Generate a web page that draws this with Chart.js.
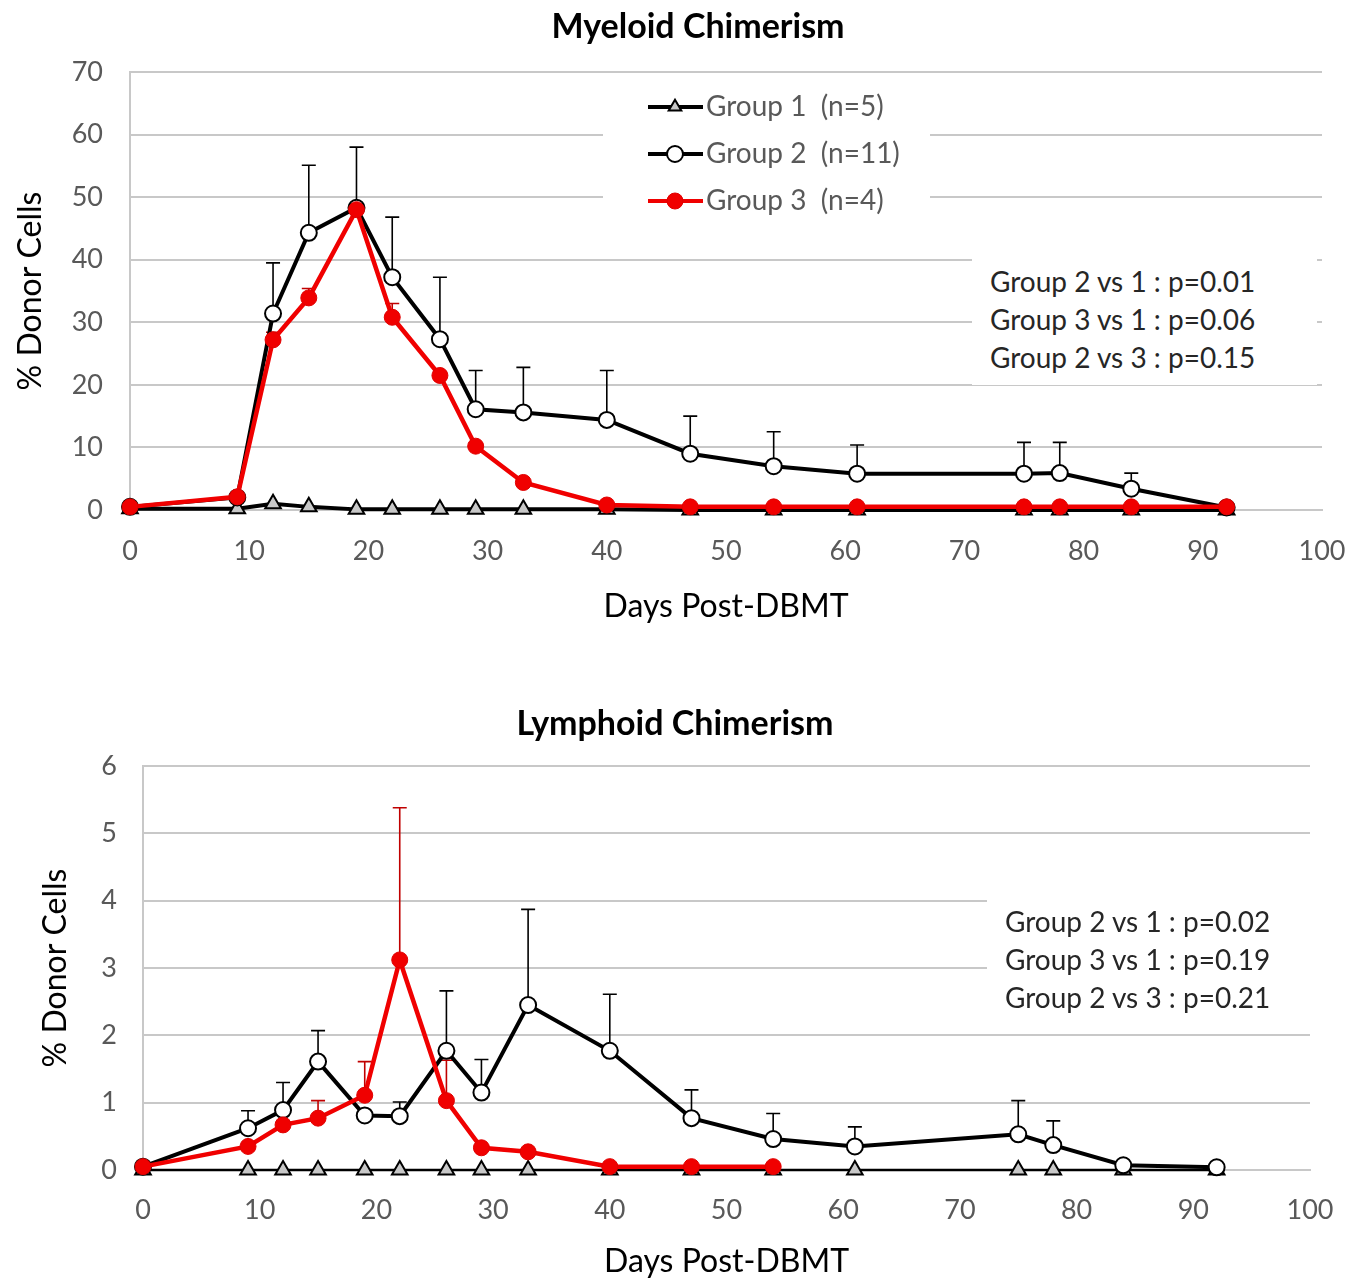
<!DOCTYPE html>
<html>
<head>
<meta charset="utf-8">
<script src="https://cdn.jsdelivr.net/npm/chart.js@4.4.0/dist/chart.umd.min.js"></script>
<style>
body { margin: 0; background: #fff; }
#wrap { position: relative; width: 1363px; height: 1282px; overflow: hidden; }
.plot { position: absolute; left: 0; }
.ttl { position: absolute; font: bold 34px Lato, sans-serif; line-height: 40px; color: #000; transform: translateX(-50%); white-space: nowrap; }
.stats { position: absolute; background: #fff; font: 28px Lato, sans-serif; line-height: 38px; color: #262626; box-sizing: border-box; white-space: pre; }
</style>
</head>
<body>
<div id="wrap">
  <canvas id="myeloid" class="plot" width="1363" height="640" style="top:0"></canvas>
  <canvas id="lymphoid" class="plot" width="1363" height="642" style="top:640px"></canvas>
  <div class="ttl" style="left:698px;top:5px">Myeloid Chimerism</div>
  <div class="ttl" style="left:675px;top:702px">Lymphoid Chimerism</div>
  <div class="stats" style="left:972px;top:240px;width:345px;height:145px;padding:22px 0 0 18px">Group 2 vs 1 : p=0.01
Group 3 vs 1 : p=0.06
Group 2 vs 3 : p=0.15</div>
  <div class="stats" style="left:987px;top:870px;width:323px;height:142px;padding:32px 0 0 18px">Group 2 vs 1 : p=0.02
Group 3 vs 1 : p=0.19
Group 2 vs 3 : p=0.21</div>
</div>
<script>
var days = [0, 9, 12, 15, 19, 22, 26, 29, 33, 40, 47, 54, 61, 75, 78, 84, 92];
var groupLabels = ['Group 1  (n=5)', 'Group 2  (n=11)', 'Group 3  (n=4)'];

// myeloid
var myeloidG1 = [0.2, 0.2, 1.0, 0.5, 0.1, 0.1, 0.1, 0.1, 0.1, 0.1, 0, 0, 0, 0, 0, 0, 0];
var myeloidG2 = [0.5, 2.0, 31.4, 44.3, 48.3, 37.2, 27.3, 16.1, 15.6, 14.4, 9.0, 7.0, 5.8, 5.8, 5.9, 3.4, 0.4];
var myeloidG2Err = [0, 0, 8.1, 10.8, 9.7, 9.6, 9.9, 6.2, 7.2, 7.9, 6.0, 5.5, 4.6, 5.0, 4.9, 2.5, 0];
var myeloidG3 = [0.5, 2.1, 27.2, 33.9, 48.0, 30.8, 21.5, 10.2, 4.4, 0.8, 0.5, 0.5, 0.5, 0.5, 0.5, 0.5, 0.5];
var myeloidG3Err = [0, 0, 1.2, 1.5, 0.5, 2.2, 0.5, 0.4, 0.4, 0, 0, 0, 0, 0, 0, 0, 0];

// lymphoid
var lymphoidG1 = [0, 0, 0, 0, 0, 0, 0, 0, 0, 0, 0, 0, 0, 0, 0, 0, 0];
var lymphoidG2 = [0.05, 0.62, 0.89, 1.61, 0.81, 0.80, 1.77, 1.15, 2.45, 1.77, 0.77, 0.46, 0.35, 0.53, 0.37, 0.07, 0.04];
var lymphoidG2Err = [0, 0.26, 0.41, 0.46, 0, 0.21, 0.89, 0.49, 1.42, 0.84, 0.42, 0.38, 0.29, 0.50, 0.36, 0.02, 0];
var lymphoidG3Days = [0, 9, 12, 15, 19, 22, 26, 29, 33, 40, 47, 54];
var lymphoidG3 = [0.05, 0.35, 0.67, 0.77, 1.11, 3.12, 1.03, 0.33, 0.27, 0.05, 0.05, 0.05];
var lymphoidG3Err = [0, 0, 0.05, 0.26, 0.50, 2.26, 0.60, 0, 0, 0, 0, 0];

var FONT = 'Lato, "Open Sans", sans-serif';
var GREY = '#595959';

function pts(xs, ys) {
	return xs.map(function(d, i) { return {x: d, y: ys[i]}; });
}

// error bars drawn upward from each point, under the markers
var errorBars = {
	id: 'errorBars',
	beforeDatasetsDraw: function(chart) {
		var ctx = chart.ctx, xs = chart.scales.x, ys = chart.scales.y;
		chart.data.datasets.forEach(function(ds) {
			if (!ds.errors) return;
			ctx.save();
			ctx.strokeStyle = ds.errorColor;
			ctx.lineWidth = 1.6;
			ds.data.forEach(function(p, j) {
				var e = ds.errors[j];
				if (!e) return;
				var x = xs.getPixelForValue(p.x);
				var y0 = ys.getPixelForValue(p.y);
				var y1 = ys.getPixelForValue(p.y + e);
				ctx.beginPath();
				ctx.moveTo(x, y0); ctx.lineTo(x, y1);
				ctx.moveTo(x - 7, y1); ctx.lineTo(x + 7, y1);
				ctx.stroke();
			});
			ctx.restore();
		});
	}
};

function marker(ctx, ds, x, y) {
	ctx.save();
	ctx.fillStyle = ds.pointBackgroundColor;
	ctx.strokeStyle = ds.pointBorderColor;
	ctx.lineWidth = ds.pointBorderWidth;
	var r = ds.pointRadius;
	ctx.beginPath();
	if (ds.pointStyle === 'triangle') {
		ctx.moveTo(x, y - r * 0.8);
		ctx.lineTo(x + r * 0.7, y + r * 0.4);
		ctx.lineTo(x - r * 0.7, y + r * 0.4);
		ctx.closePath();
	} else {
		ctx.arc(x, y, r, 0, Math.PI * 2);
	}
	ctx.fill();
	ctx.stroke();
	ctx.restore();
}

// legend sitting inside the plot, on a white patch
var boxLegend = {
	id: 'boxLegend',
	beforeDatasetsDraw: function(chart, args, opts) {
		if (!opts.show) return;
		var ctx = chart.ctx;
		ctx.save();
		ctx.fillStyle = '#fff';
		ctx.fillRect(603, 85, 327, 143);
		ctx.font = '28px ' + FONT;
		ctx.textBaseline = 'middle';
		chart.data.datasets.forEach(function(ds, i) {
			var y = 107 + i * 47;
			ctx.strokeStyle = ds.borderColor;
			ctx.lineWidth = 4;
			ctx.beginPath(); ctx.moveTo(648, y); ctx.lineTo(703, y); ctx.stroke();
			marker(ctx, ds, 675, y);
			ctx.fillStyle = GREY;
			ctx.fillText(ds.label, 706, y);
		});
		ctx.restore();
	}
};

function makeSets(g1x, g1, g2x, g2, g2e, g3x, g3, g3e, g1w) {
	return [
		{label: groupLabels[0], data: pts(g1x, g1), order: 3, clip: false, borderColor: '#000', borderWidth: g1w,
		 pointStyle: 'triangle', pointRadius: 9, pointBackgroundColor: '#c8c8c8', pointBorderColor: '#000', pointBorderWidth: 2},
		{label: groupLabels[1], data: pts(g2x, g2), order: 2, clip: false, borderColor: '#000', borderWidth: 4,
		 pointStyle: 'circle', pointRadius: 8, pointBackgroundColor: '#fff', pointBorderColor: '#000', pointBorderWidth: 2,
		 errors: g2e, errorColor: '#000'},
		{label: groupLabels[2], data: pts(g3x, g3), order: 1, clip: false, borderColor: '#f00000', borderWidth: 4.5,
		 pointStyle: 'circle', pointRadius: 8, pointBackgroundColor: '#f00000', pointBorderColor: '#e00000', pointBorderWidth: 1,
		 errors: g3e, errorColor: '#c00000'}
	];
}

function makeOptions(o) {
	return {
		responsive: false,
		animation: false,
		layout: {padding: {top: o.top, right: o.right, left: 0, bottom: 0}},
		plugins: {legend: {display: false}, tooltip: {enabled: false}, boxLegend: {show: o.legend}},
		elements: {line: {tension: 0}},
		scales: {
			x: {
				type: 'linear', min: 0, max: 100,
				ticks: {stepSize: 10, color: GREY, font: {family: FONT, size: 27}, padding: o.xtickPad, maxRotation: 0},
				grid: {display: false, drawTicks: false},
				border: {display: true, color: '#c8c8c8', width: 2},
				title: {display: true, text: 'Days Post-DBMT', color: '#000', font: {family: FONT, size: 32}, padding: o.xtitlePad},
				afterFit: function(s) { s.height = o.xh; s.paddingRight = 0; s.paddingLeft = 0; }
			},
			y: {
				min: 0, max: o.ymax,
				ticks: {stepSize: o.ystep, color: GREY, font: {family: FONT, size: 27}, padding: o.ytickPad},
				grid: {color: '#c8c8c8', lineWidth: 2, drawTicks: false},
				border: {display: true, color: '#c8c8c8', width: 2},
				title: {display: true, text: '% Donor Cells', color: '#000', font: {family: FONT, size: 32}, padding: o.ytitlePad},
				afterFit: function(s) { s.width = o.yw; }
			}
		}
	};
}

new Chart(document.getElementById('myeloid'), {
	type: 'line',
	data: {datasets: makeSets(days, myeloidG1, days, myeloidG2, myeloidG2Err, days, myeloidG3, myeloidG3Err, 4)},
	options: makeOptions({top: 72, right: 41, xh: 130, yw: 130, ymax: 70, ystep: 10,
		xtickPad: 25, xtitlePad: 14, ytickPad: 27, ytitlePad: 11, legend: true}),
	plugins: [boxLegend, errorBars]
});

new Chart(document.getElementById('lymphoid'), {
	type: 'line',
	data: {datasets: makeSets(days, lymphoidG1, days, lymphoidG2, lymphoidG2Err, lymphoidG3Days, lymphoidG3, lymphoidG3Err, 2.5)},
	options: makeOptions({top: 126, right: 53, xh: 112, yw: 143, ymax: 6, ystep: 1,
		xtickPad: 24, xtitlePad: 1, ytickPad: 26, ytitlePad: 36, legend: false}),
	plugins: [boxLegend, errorBars]
});
</script>
</body>
</html>
